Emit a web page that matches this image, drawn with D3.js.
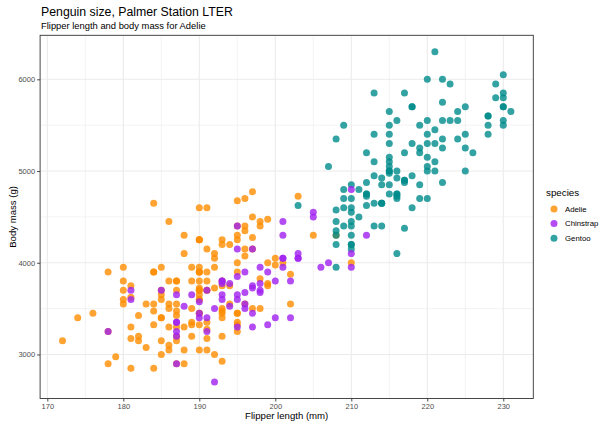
<!DOCTYPE html>
<html><head><meta charset="utf-8">
<script src="https://cdn.jsdelivr.net/npm/d3@7"></script>
<style>body{margin:0;background:#fff}svg{display:block;font-family:"Liberation Sans",Arial,sans-serif}</style>
</head><body><svg id="c" width="600" height="421"></svg>
<script>
const species = ["Adelie","Chinstrap","Gentoo"];
const drawOrder = ["Adelie","Gentoo","Chinstrap"];
const colors = ["#FF8C00","#A020F0","#008B8B"];
const xTicks = [170,180,190,200,210,220,230];
const yTicks = [3000,4000,5000,6000];
const xMinor = [175,185,195,205,215,225];
const yMinor = [2500,3500,4500,5500,6500];

const adelieFlipper = [181,186,195,193,190,181,195,193,190,186,180,182,191,198,185,195,197,184,194,174,180,189,185,180,187,183,187,172,180,178,178,188,184,195,196,190,180,181,184,182,195,186,196,185,190,182,179,190,191,186,188,190,200,187,191,186,193,181,194,185,195,185,192,184,192,195,188,190,198,190,190,196,197,190,195,191,184,187,195,189,196,187,193,191,194,190,189,189,190,202,205,185,186,187,208,190,196,178,192,192,203,183,190,193,184,199,190,181,197,198,191,193,197,191,196,188,199,189,189,187,198,176,202,186,199,191,195,191,210,190,197,193,199,187,190,191,200,185,193,193,187,188,190,192,185,190,184,195,193,187,201];
const adelieMass = [3750,3800,3250,3450,3650,3625,4675,3475,4250,3300,3700,3200,3800,4400,3700,3450,4500,3325,4200,3400,3600,3800,3950,3800,3800,3550,3200,3150,3950,3250,3900,3300,3900,3325,4150,3950,3550,3300,4650,3150,3900,3100,4400,3000,4600,3425,2975,3450,4150,3500,4300,3450,4050,2900,3700,3550,3800,2850,3750,3150,4400,3600,4050,2850,3950,3350,4100,3050,4450,3600,3900,3550,4150,3700,4250,3700,3900,3550,4000,3200,4700,3800,4200,3350,3550,3800,3500,3950,3600,3550,4300,3400,4450,3300,4300,3700,4350,2900,4100,3725,4725,3075,4250,2925,3550,3750,3900,3175,4775,3825,4600,3200,4275,3900,4075,2900,3775,3350,3325,3150,3500,3450,3875,3050,4000,3275,4300,3050,4000,3325,3500,3500,4475,3425,3900,3175,3975,3400,4250,3400,3475,3050,3725,3000,3650,4250,3475,3450,3750,3700,4000];

const gentooFlipper = [211,230,210,218,215,210,211,219,209,215,214,216,214,213,210,217,210,221,209,222,218,215,213,215,215,215,216,215,210,220,222,209,207,230,220,220,213,219,208,208,208,225,210,216,222,217,210,225,213,215,210,220,210,225,217,220,208,220,208,224,208,221,214,231,219,230,214,229,220,223,216,221,221,217,216,230,209,220,215,223,212,221,212,224,212,228,218,218,212,230,218,228,212,224,214,226,216,222,203,225,219,228,215,228,216,215,210,219,208,209,216,229,213,230,217,230,217,222,214,215,222,212,213];
const gentooMass = [4500,5700,4450,5700,5400,4550,4800,5200,4400,5150,4650,5550,4650,5850,4200,5850,4150,6300,4800,5350,5700,5000,4400,5050,5000,5100,4100,5650,4600,5550,5250,4700,5050,6050,5150,5400,4950,5250,4350,5350,3950,5700,4300,4750,5550,4900,4200,5400,5100,5300,4850,5300,4400,5000,4900,5050,4300,5000,4450,5550,4200,5300,4400,5650,4700,5700,4650,5800,4700,5550,4750,5000,5100,5200,4700,5800,4600,6000,4750,5950,4625,5450,4725,5350,4750,5600,4600,5300,4875,5550,4950,5400,4750,5650,4850,5200,4925,4875,4625,5250,4850,5600,4975,5500,4725,5500,4700,5500,4575,5500,5000,5950,4650,5500,4375,5850,4875,6000,4925,4850,5750,5200,5400];

const chinstrapFlipper = [192,196,193,188,197,198,178,197,195,198,193,194,185,201,190,201,197,181,190,195,181,191,187,193,195,197,200,200,191,205,187,201,187,203,195,199,195,210,192,205,210,187,196,196,196,201,190,212,187,198,199,201,193,203,187,197,191,203,202,194,206,189,195,207,202,193,210,198];
const chinstrapMass = [3500,3900,3650,3525,3725,3950,3250,3750,4150,3700,3800,3775,3700,4050,3575,4050,3300,3700,3450,4400,3600,3400,2900,3800,3300,4150,3400,3800,3700,4550,3200,4300,3350,4100,3600,3900,3850,4800,2700,4500,3950,3650,3550,3500,3675,4450,3400,4300,3250,3675,3325,3950,3600,4050,3350,3450,3250,4050,3800,3525,3950,3650,3650,4000,3400,3775,4100,3775];

const seriesData = {
  Adelie: adelieFlipper.map((f,i)=>({f, m: adelieMass[i], s:"Adelie"})),
  Gentoo: gentooFlipper.map((f,i)=>({f, m: gentooMass[i], s:"Gentoo"})),
  Chinstrap: chinstrapFlipper.map((f,i)=>({f, m: chinstrapMass[i], s:"Chinstrap"}))
};
const all = drawOrder.flatMap(s => seriesData[s]);

const P = {left:40.1, right:533.3, top:35.3, bottom:398.5};
const fx = d3.extent(all, d=>d.f), fm = d3.extent(all, d=>d.m);
const ex = (fx[1]-fx[0])*0.05, em = (fm[1]-fm[0])*0.05;
const x = d3.scaleLinear().domain([fx[0]-ex, fx[1]+ex]).range([P.left, P.right]);
const y = d3.scaleLinear().domain([fm[0]-em, fm[1]+em]).range([P.bottom, P.top]);
const color = d3.scaleOrdinal().domain(species).range(colors);

const svg = d3.select("#c");
const grid = svg.append("g");
grid.selectAll(".xm").data(xMinor).join("line")
  .attr("x1",d=>x(d)).attr("x2",d=>x(d)).attr("y1",P.top).attr("y2",P.bottom)
  .attr("stroke","#EBEBEB").attr("stroke-width",0.6);
grid.selectAll(".ym").data(yMinor.filter(v=>y(v)>P.top && y(v)<P.bottom)).join("line")
  .attr("y1",d=>y(d)).attr("y2",d=>y(d)).attr("x1",P.left).attr("x2",P.right)
  .attr("stroke","#EBEBEB").attr("stroke-width",0.6);
grid.selectAll(".xM").data(xTicks).join("line")
  .attr("x1",d=>x(d)).attr("x2",d=>x(d)).attr("y1",P.top).attr("y2",P.bottom)
  .attr("stroke","#EBEBEB").attr("stroke-width",1.1);
grid.selectAll(".yM").data(yTicks).join("line")
  .attr("y1",d=>y(d)).attr("y2",d=>y(d)).attr("x1",P.left).attr("x2",P.right)
  .attr("stroke","#EBEBEB").attr("stroke-width",1.1);

svg.append("g").selectAll("circle").data(all).join("circle")
  .attr("cx",d=>x(d.f)).attr("cy",d=>y(d.m)).attr("r",3.5)
  .attr("fill",d=>color(d.s)).attr("fill-opacity",0.8);

svg.append("rect").attr("x",P.left).attr("y",P.top)
  .attr("width",P.right-P.left).attr("height",P.bottom-P.top)
  .attr("fill","none").attr("stroke","#333333").attr("stroke-width",0.9);

const xa = svg.append("g").attr("transform",`translate(0,${P.bottom})`)
  .call(d3.axisBottom(x).tickValues(xTicks).tickSize(3).tickPadding(2));
const ya = svg.append("g").attr("transform",`translate(${P.left},0)`)
  .call(d3.axisLeft(y).tickValues(yTicks).tickFormat(d3.format("d")).tickSize(3).tickPadding(2));
[xa,ya].forEach(a=>{
  a.select(".domain").remove();
  a.selectAll(".tick line").attr("stroke","#333333").attr("stroke-width",0.9);
  a.selectAll(".tick text").attr("fill","#4D4D4D").style("font-size","7.5px").style("font-family","'Liberation Sans',Arial,sans-serif");
});

svg.append("text").attr("x",41).attr("y",16).attr("font-size","12.3px").attr("fill","#000")
  .text("Penguin size, Palmer Station LTER");
svg.append("text").attr("x",41).attr("y",28.5).attr("font-size","9.4px").attr("fill","#000")
  .text("Flipper length and body mass for Adelie");
svg.append("text").attr("x",(P.left+P.right)/2).attr("y",419).attr("text-anchor","middle")
  .attr("font-size","9.6px").attr("fill","#000").text("Flipper length (mm)");
svg.append("text").attr("transform",`translate(15.5,${(P.top+P.bottom)/2}) rotate(-90)`)
  .attr("text-anchor","middle").attr("font-size","9.6px").attr("fill","#000").text("Body mass (g)");

const lg = svg.append("g");
lg.append("text").attr("x",546).attr("y",196).attr("font-size","9.8px").text("species");
const items = lg.selectAll(".it").data(species).join("g")
  .attr("transform",(d,i)=>`translate(554,${209+i*14.6})`);
items.append("circle").attr("r",3.5).attr("fill",d=>color(d)).attr("fill-opacity",0.8);
items.append("text").attr("x",11).attr("y",2.8).attr("font-size","7.8px").attr("fill","#000").text(d=>d);
</script></body></html>
